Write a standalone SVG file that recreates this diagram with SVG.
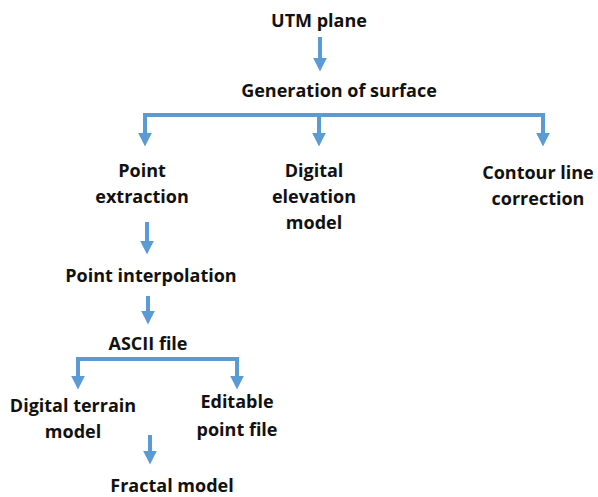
<svg xmlns="http://www.w3.org/2000/svg" width="598" height="497" viewBox="0 0 598 497">
<style>
text{font-family:"Open Sans","Liberation Sans",sans-serif;font-weight:bold;font-size:18px;fill:#111;text-anchor:middle}
.c{fill:none;stroke:#5B9BD5;stroke-width:4;stroke-linejoin:miter}
</style>
<defs>
<marker id="ah" viewBox="0 0 10 10" refX="1" refY="5" markerWidth="3.5" markerHeight="3.5" orient="auto" markerUnits="strokeWidth">
<path d="M0,0 L10,5 L0,10 z" fill="#5B9BD5"/>
</marker>
</defs>
<rect width="598" height="497" fill="#fff"/>
<g id="connectors">
<path class="c" d="M320,37 V59" marker-end="url(#ah)"/>
<path class="c" d="M145,134 V115 H543 V134" marker-end="url(#ah)"/>
<path class="c" d="M145,115 V134" marker-end="url(#ah)"/>
<path class="c" d="M319,115 V134" marker-end="url(#ah)"/>
<path class="c" d="M147,222 V242" marker-end="url(#ah)"/>
<path class="c" d="M148,296 V312" marker-end="url(#ah)"/>
<path class="c" d="M78,377 V359 H237 V377" marker-end="url(#ah)"/>
<path class="c" d="M78,359 V377" marker-end="url(#ah)"/>
<path class="c" d="M150,435 V452" marker-end="url(#ah)"/>
</g>
<g id="utm"><text x="319" y="27">UTM plane</text></g>
<g id="gen"><text x="339" y="97">Generation of surface</text></g>
<g id="pe"><text x="142" y="177">Point</text><text x="142" y="203">extraction</text></g>
<g id="dem"><text x="314" y="177">Digital</text><text x="314" y="203">elevation</text><text x="314" y="229">model</text></g>
<g id="clc"><text x="538" y="179">Contour line</text><text x="538" y="205">correction</text></g>
<g id="pi"><text x="151" y="282">Point interpolation</text></g>
<g id="ascii"><text x="148" y="350">ASCII file</text></g>
<g id="dtm"><text x="73" y="412">Digital terrain</text><text x="73" y="438">model</text></g>
<g id="epf"><text x="237" y="408">Editable</text><text x="237" y="436">point file</text></g>
<g id="fm"><text x="172" y="492">Fractal model</text></g>
</svg>
